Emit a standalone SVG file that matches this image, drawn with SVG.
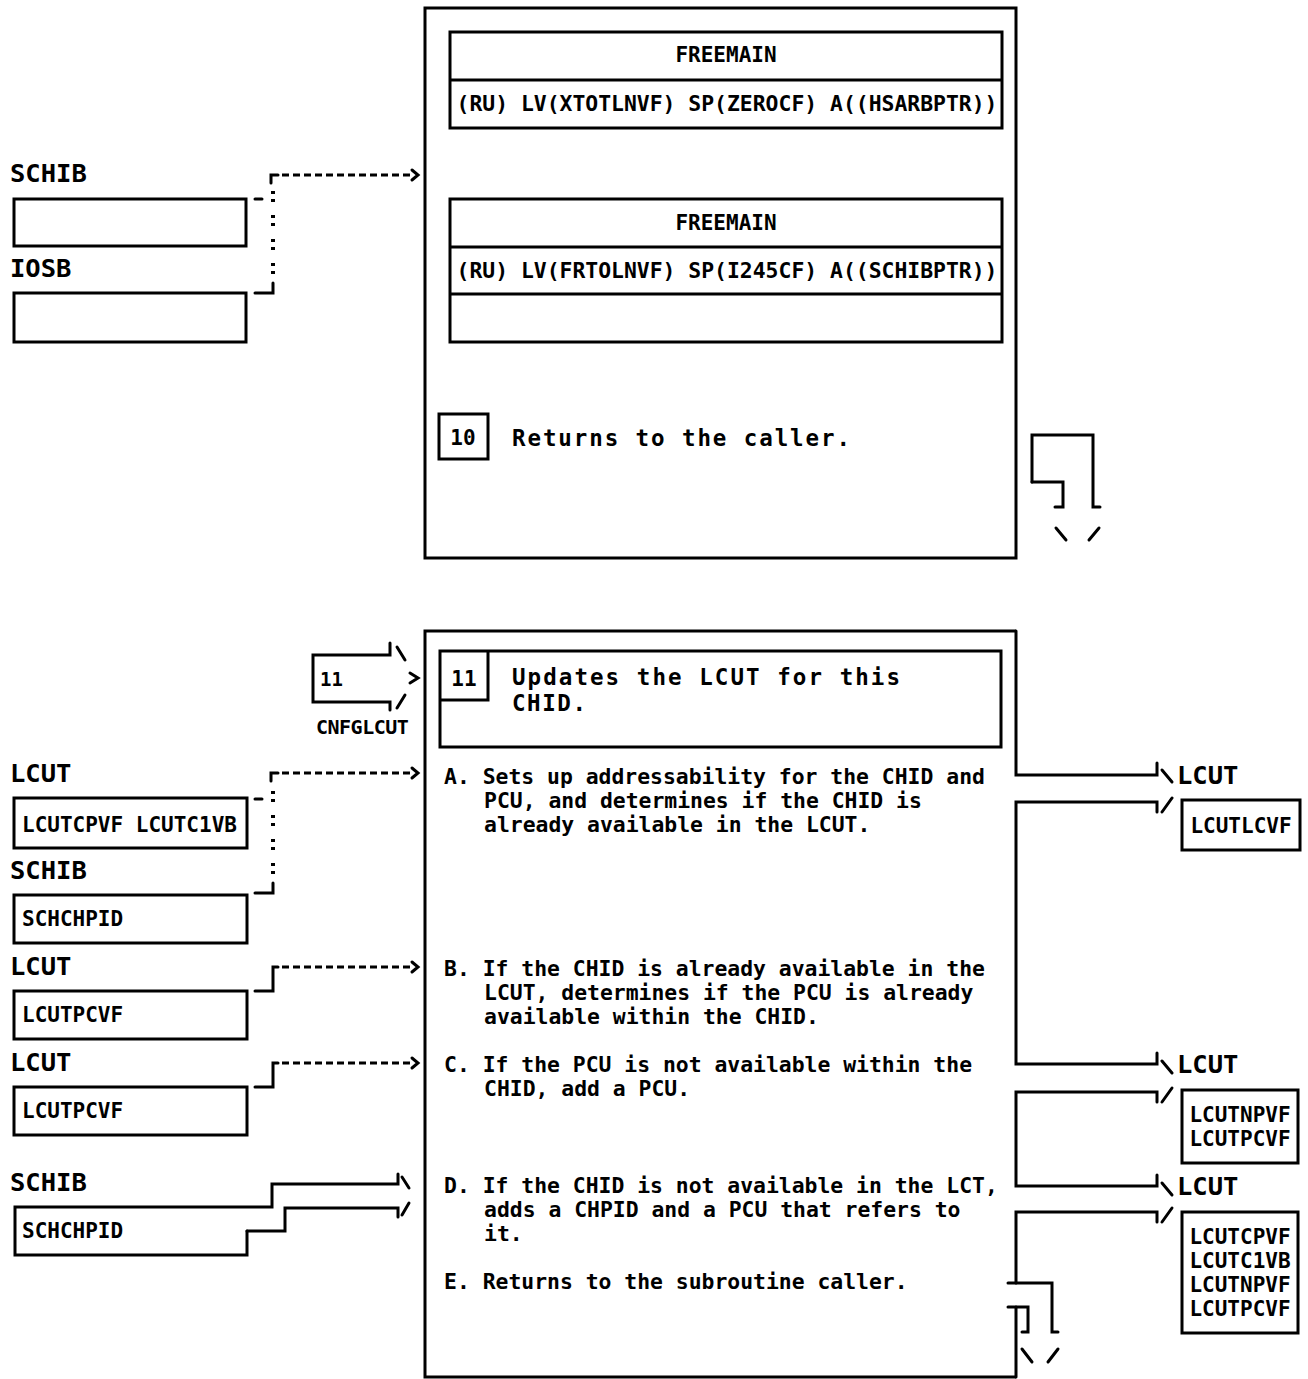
<svg xmlns="http://www.w3.org/2000/svg" width="1308" height="1379" viewBox="0 0 1308 1379">
<style>
.b{fill:none;stroke:#000;stroke-width:3}
.c{fill:none;stroke:#000;stroke-width:3;stroke-linecap:round;stroke-linejoin:miter}
.d{fill:none;stroke:#000;stroke-width:3;stroke-dasharray:7 4}
.o{fill:none;stroke:#000;stroke-width:4;stroke-dasharray:3 5 3 13}
text{font-family:"DejaVu Sans Mono","Liberation Mono",monospace;font-weight:bold;fill:#000}
.t{font-size:21.4px}
.s{font-size:21px}
.h{font-size:22.5px}
.l{font-size:25.5px}
.m{text-anchor:middle}
</style>
<rect width="1308" height="1379" fill="#fff"/>

<g id="top-box">
<rect class="b" x="425" y="8" width="591" height="550"/>
</g>
<g id="freemain1">
<rect class="b" x="450" y="32" width="552" height="96"/>
<line class="b" x1="450" y1="80" x2="1002" y2="80"/>
<text class="s m" x="726" y="62">FREEMAIN</text>
<text class="t m" x="727" y="111">(RU) LV(XTOTLNVF) SP(ZEROCF) A((HSARBPTR))</text>
</g>
<g id="freemain2">
<rect class="b" x="450" y="199" width="552" height="143"/>
<line class="b" x1="450" y1="247" x2="1002" y2="247"/>
<line class="b" x1="450" y1="294" x2="1002" y2="294"/>
<text class="s m" x="726" y="230">FREEMAIN</text>
<text class="t m" x="727" y="278">(RU) LV(FRTOLNVF) SP(I245CF) A((SCHIBPTR))</text>
</g>
<g id="step10">
<rect class="b" x="439" y="414" width="49" height="45"/>
<text class="s m" x="463" y="445">10</text>
<text class="h" x="512" y="446" textLength="338" lengthAdjust="spacing">Returns to the caller.</text>
</g>
<g id="schib-top">
<text class="l" x="10" y="182">SCHIB</text>
<rect class="b" x="14" y="199" width="232" height="47"/>
</g>
<g id="iosb-top">
<text class="l" x="10" y="277">IOSB</text>
<rect class="b" x="14" y="293" width="232" height="49"/>
</g>

<g id="bottom-box">
<path class="b" d="M1016 631 H425 V1377 H1016"/>
</g>
<g id="step11">
<rect class="b" x="440" y="651" width="561" height="96"/>
<path class="b" d="M488 651 V700 H440"/>
<text class="s m" x="464" y="686">11</text>
<text class="h" x="512" y="685" textLength="388" lengthAdjust="spacing">Updates the LCUT for this</text>
<text class="h" x="512" y="711" textLength="74" lengthAdjust="spacing">CHID.</text>
</g>
<g id="entry11">
<text class="s" x="320" y="686" style="font-size:19px">11</text>
<text class="s" x="316" y="734" style="font-size:20px;letter-spacing:-0.5px">CNFGLCUT</text>
</g>
<g id="steps">
<text class="t" x="444" y="784">A. Sets up addressability for the CHID and</text>
<text class="t" x="484" y="808">PCU, and determines if the CHID is</text>
<text class="t" x="484" y="832">already available in the LCUT.</text>
<text class="t" x="444" y="976">B. If the CHID is already available in the</text>
<text class="t" x="484" y="1000">LCUT, determines if the PCU is already</text>
<text class="t" x="484" y="1024">available within the CHID.</text>
<text class="t" x="444" y="1072">C. If the PCU is not available within the</text>
<text class="t" x="484" y="1096">CHID, add a PCU.</text>
<text class="t" x="444" y="1193">D. If the CHID is not available in the LCT,</text>
<text class="t" x="484" y="1217">adds a CHPID and a PCU that refers to</text>
<text class="t" x="484" y="1241">it.</text>
<text class="t" x="444" y="1289">E. Returns to the subroutine caller.</text>
</g>
<g id="lcut-a">
<text class="l" x="10" y="782">LCUT</text>
<rect class="b" x="14" y="798" width="233" height="50"/>
<text class="s" x="22" y="832">LCUTCPVF LCUTC1VB</text>
</g>
<g id="schib-a">
<text class="l" x="10" y="879">SCHIB</text>
<rect class="b" x="14" y="895" width="233" height="48"/>
<text class="s" x="22" y="926">SCHCHPID</text>
</g>
<g id="lcut-b">
<text class="l" x="10" y="975">LCUT</text>
<rect class="b" x="14" y="991" width="233" height="48"/>
<text class="s" x="22" y="1022">LCUTPCVF</text>
</g>
<g id="lcut-c">
<text class="l" x="10" y="1071">LCUT</text>
<rect class="b" x="14" y="1087" width="233" height="48"/>
<text class="s" x="22" y="1118">LCUTPCVF</text>
</g>
<g id="schib-d">
<text class="l" x="10" y="1191">SCHIB</text>
<text class="s" x="22" y="1238">SCHCHPID</text>
</g>
<g id="lcut-out1">
<text class="l" x="1177" y="784">LCUT</text>
<rect class="b" x="1182" y="800" width="118" height="50"/>
<text class="s m" x="1241" y="833">LCUTLCVF</text>
</g>
<g id="lcut-out2">
<text class="l" x="1177" y="1073">LCUT</text>
<rect class="b" x="1182" y="1090" width="116" height="73"/>
<text class="s m" x="1240" y="1122">LCUTNPVF</text>
<text class="s m" x="1240" y="1146">LCUTPCVF</text>
</g>
<g id="lcut-out3">
<text class="l" x="1177" y="1195">LCUT</text>
<rect class="b" x="1182" y="1212" width="116" height="121"/>
<text class="s m" x="1240" y="1244">LCUTCPVF</text>
<text class="s m" x="1240" y="1268">LCUTC1VB</text>
<text class="s m" x="1240" y="1292">LCUTNPVF</text>
<text class="s m" x="1240" y="1316">LCUTPCVF</text>
</g>

<g id="connectors">
<path class="c" d="M271 183 V175 H278"/>
<line class="d" x1="282" y1="175" x2="410" y2="175"/>
<path class="c" d="M412 170 L418 175 L412 180"/>
<line class="c" x1="255" y1="199" x2="262" y2="199"/>
<line class="o" x1="273" y1="191" x2="273" y2="277"/>
<path class="c" d="M255 293 H273 V283"/>
<path class="c" d="M1032 482 V435 H1093 V507 H1100"/>
<path class="c" d="M1032 482 H1063 V507 H1055"/>
<path class="c" d="M1056 528 L1066 540 M1099 528 L1089 540"/>
<path class="c" d="M390 643 V655 H313 V702 H390 V710"/>
<path class="c" d="M397 647 L405 660 M410 673 L418 678 L410 683 M405 695 L397 708"/>
<path class="c" d="M271 781 V773 H278"/>
<line class="d" x1="282" y1="773" x2="410" y2="773"/>
<path class="c" d="M412 768 L418 773 L412 778"/>
<line class="c" x1="255" y1="799" x2="262" y2="799"/>
<line class="o" x1="273" y1="791" x2="273" y2="877"/>
<path class="c" d="M255 893 H273 V883"/>
<path class="c" d="M255 991 H273 V967 H278"/>
<line class="d" x1="282" y1="967" x2="410" y2="967"/>
<path class="c" d="M412 962 L418 967 L412 972"/>
<path class="c" d="M255 1087 H273 V1063 H278"/>
<line class="d" x1="282" y1="1063" x2="410" y2="1063"/>
<path class="c" d="M412 1058 L418 1063 L412 1068"/>
<path class="c" d="M247 1231 V1255 H15 V1207 H272 V1184 H398 V1174"/>
<path class="c" d="M247 1231 H285 V1208 H398 V1217"/>
<path class="c" d="M402 1177 L409 1188 M409 1203 L402 1215"/>
<path class="c" d="M1016 631 V775 H1157 V763"/>
<path class="c" d="M1162 770 L1172 782"/>
<path class="c" d="M1157 812 V802 H1016 V1064 H1157 V1053"/>
<path class="c" d="M1162 812 L1172 798 M1162 1061 L1172 1073"/>
<path class="c" d="M1157 1102 V1092 H1016 V1186 H1157 V1175"/>
<path class="c" d="M1162 1102 L1172 1088 M1162 1183 L1172 1195"/>
<path class="c" d="M1157 1222 V1212 H1016 V1283"/>
<path class="c" d="M1162 1222 L1172 1208"/>
<path class="c" d="M1008 1283 H1052 V1332 H1058"/>
<path class="c" d="M1008 1307 H1028 V1332 H1022"/>
<path class="c" d="M1016 1307 V1377"/>
<path class="c" d="M1022 1349 L1032 1362 M1058 1349 L1048 1362"/>
</g>
</svg>
